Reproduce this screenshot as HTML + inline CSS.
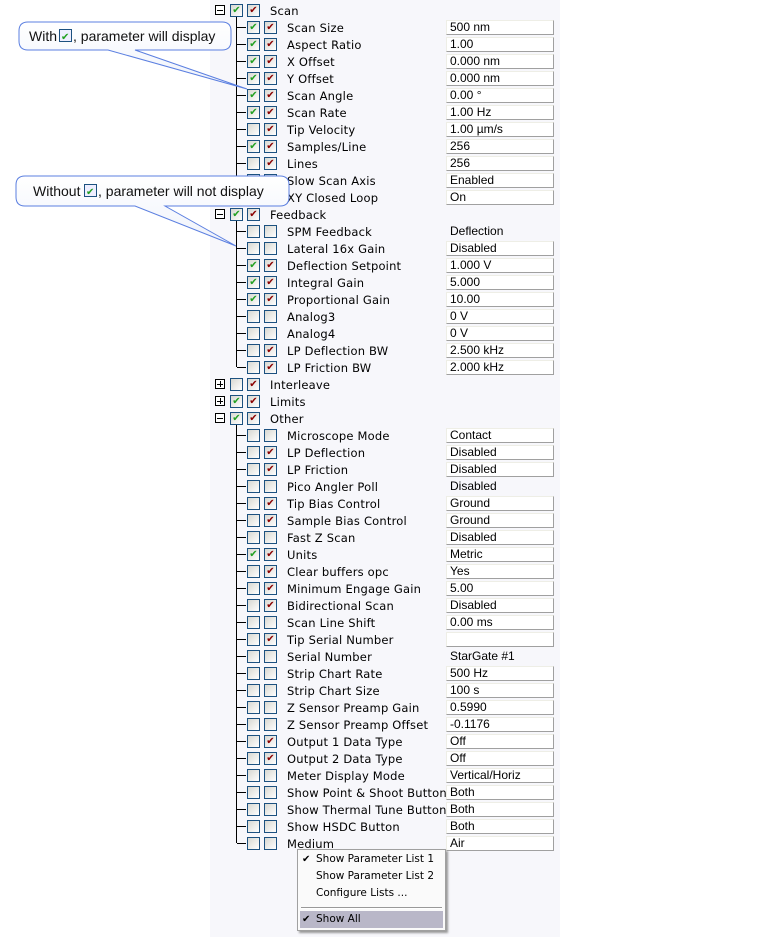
<!DOCTYPE html>
<html><head><meta charset="utf-8"><style>
body{margin:0;width:768px;height:937px;background:#fff;position:relative;overflow:hidden;font-family:"DejaVu Sans",sans-serif}
#panel{position:absolute;left:210px;top:0;width:350px;height:937px;background:#f7f7fb}
.r{position:absolute;left:0;width:768px;height:17px}
.h{position:absolute;left:237px;top:8px;width:9px;height:1px;background:#000}
.cb{position:absolute;top:2px;width:11px;height:11px;border:1px solid #1c5180;background:linear-gradient(135deg,#d8d8d2,#fff);font-size:10px;line-height:11px;text-align:center;font-weight:bold}
.g{color:#22a022}.d{color:#8b0000}
.c1{left:247px}.c2{left:264px}
.t .c1{left:230px}.t .c2{left:247px}
.l{position:absolute;left:287px;top:1px;font-size:11.5px;line-height:17px;color:#000;white-space:nowrap;letter-spacing:0.2px}
.t .l{left:270px}
.v{position:absolute;left:446px;top:1px;width:103px;height:13px;background:#fff;border:1px solid;border-color:#eeeee6 #a0a0a0 #a0a0a0 #eeeee6;font-family:"Liberation Sans",sans-serif;font-size:12px;line-height:12px;padding-left:3px;white-space:nowrap}
.nb{background:transparent;border-color:transparent}
.ex{position:absolute;left:215px;top:3px;width:8px;height:8px;border:1px solid #000;background:#fff}
.ex:before{content:"";position:absolute;left:1px;top:3.5px;width:6px;height:1px;background:#000}
.ex.p:after{content:"";position:absolute;left:3.5px;top:1px;width:1px;height:6px;background:#000}
.vl{position:absolute;left:236px;width:1px;background:#000}
.menu{position:absolute;left:297px;top:849px;width:147px;height:80px;background:#fafafa;border:1px solid #a0a0a0;box-shadow:2px 2px 2px #999;font-family:"DejaVu Sans",sans-serif;font-size:10.5px}
.mi{position:absolute;left:18px;white-space:nowrap}
</style></head><body>
<div id="panel"></div>
<div class="vl" style="top:17px;height:180px"></div>
<div class="vl" style="top:221px;height:146px"></div>
<div class="vl" style="top:425px;height:418px"></div>

<div class="r t" style="top:2px"><div class="ex"></div><div class="cb c1 g">✔</div><div class="cb c2 d">✔</div><div class="l">Scan</div></div>
<div class="r" style="top:19px"><div class="h"></div><div class="cb c1 g">✔</div><div class="cb c2 d">✔</div><div class="l">Scan Size</div><div class="v">500 nm</div></div>
<div class="r" style="top:36px"><div class="h"></div><div class="cb c1 g">✔</div><div class="cb c2 d">✔</div><div class="l">Aspect Ratio</div><div class="v">1.00</div></div>
<div class="r" style="top:53px"><div class="h"></div><div class="cb c1 g">✔</div><div class="cb c2 d">✔</div><div class="l">X Offset</div><div class="v">0.000 nm</div></div>
<div class="r" style="top:70px"><div class="h"></div><div class="cb c1 g">✔</div><div class="cb c2 d">✔</div><div class="l">Y Offset</div><div class="v">0.000 nm</div></div>
<div class="r" style="top:87px"><div class="h"></div><div class="cb c1 g">✔</div><div class="cb c2 d">✔</div><div class="l">Scan Angle</div><div class="v">0.00 °</div></div>
<div class="r" style="top:104px"><div class="h"></div><div class="cb c1 g">✔</div><div class="cb c2 d">✔</div><div class="l">Scan Rate</div><div class="v">1.00 Hz</div></div>
<div class="r" style="top:121px"><div class="h"></div><div class="cb c1"></div><div class="cb c2 d">✔</div><div class="l">Tip Velocity</div><div class="v">1.00 µm/s</div></div>
<div class="r" style="top:138px"><div class="h"></div><div class="cb c1 g">✔</div><div class="cb c2 d">✔</div><div class="l">Samples/Line</div><div class="v">256</div></div>
<div class="r" style="top:155px"><div class="h"></div><div class="cb c1"></div><div class="cb c2 d">✔</div><div class="l">Lines</div><div class="v">256</div></div>
<div class="r" style="top:172px"><div class="h"></div><div class="cb c1"></div><div class="cb c2"></div><div class="l">Slow Scan Axis</div><div class="v">Enabled</div></div>
<div class="r" style="top:189px"><div class="h"></div><div class="cb c1"></div><div class="cb c2"></div><div class="l">XY Closed Loop</div><div class="v">On</div></div>
<div class="r t" style="top:206px"><div class="ex"></div><div class="cb c1 g">✔</div><div class="cb c2 d">✔</div><div class="l">Feedback</div></div>
<div class="r" style="top:223px"><div class="h"></div><div class="cb c1"></div><div class="cb c2"></div><div class="l">SPM Feedback</div><div class="v nb">Deflection</div></div>
<div class="r" style="top:240px"><div class="h"></div><div class="cb c1"></div><div class="cb c2"></div><div class="l">Lateral 16x Gain</div><div class="v">Disabled</div></div>
<div class="r" style="top:257px"><div class="h"></div><div class="cb c1 g">✔</div><div class="cb c2 d">✔</div><div class="l">Deflection Setpoint</div><div class="v">1.000 V</div></div>
<div class="r" style="top:274px"><div class="h"></div><div class="cb c1 g">✔</div><div class="cb c2 d">✔</div><div class="l">Integral Gain</div><div class="v">5.000</div></div>
<div class="r" style="top:291px"><div class="h"></div><div class="cb c1 g">✔</div><div class="cb c2 d">✔</div><div class="l">Proportional Gain</div><div class="v">10.00</div></div>
<div class="r" style="top:308px"><div class="h"></div><div class="cb c1"></div><div class="cb c2"></div><div class="l">Analog3</div><div class="v">0 V</div></div>
<div class="r" style="top:325px"><div class="h"></div><div class="cb c1"></div><div class="cb c2"></div><div class="l">Analog4</div><div class="v">0 V</div></div>
<div class="r" style="top:342px"><div class="h"></div><div class="cb c1"></div><div class="cb c2 d">✔</div><div class="l">LP Deflection BW</div><div class="v">2.500 kHz</div></div>
<div class="r" style="top:359px"><div class="h"></div><div class="cb c1"></div><div class="cb c2 d">✔</div><div class="l">LP Friction BW</div><div class="v">2.000 kHz</div></div>
<div class="r t" style="top:376px"><div class="ex p"></div><div class="cb c1"></div><div class="cb c2 d">✔</div><div class="l">Interleave</div></div>
<div class="r t" style="top:393px"><div class="ex p"></div><div class="cb c1 g">✔</div><div class="cb c2 d">✔</div><div class="l">Limits</div></div>
<div class="r t" style="top:410px"><div class="ex"></div><div class="cb c1 g">✔</div><div class="cb c2 d">✔</div><div class="l">Other</div></div>
<div class="r" style="top:427px"><div class="h"></div><div class="cb c1"></div><div class="cb c2"></div><div class="l">Microscope Mode</div><div class="v">Contact</div></div>
<div class="r" style="top:444px"><div class="h"></div><div class="cb c1"></div><div class="cb c2 d">✔</div><div class="l">LP Deflection</div><div class="v">Disabled</div></div>
<div class="r" style="top:461px"><div class="h"></div><div class="cb c1"></div><div class="cb c2 d">✔</div><div class="l">LP Friction</div><div class="v">Disabled</div></div>
<div class="r" style="top:478px"><div class="h"></div><div class="cb c1"></div><div class="cb c2"></div><div class="l">Pico Angler Poll</div><div class="v nb">Disabled</div></div>
<div class="r" style="top:495px"><div class="h"></div><div class="cb c1"></div><div class="cb c2 d">✔</div><div class="l">Tip Bias Control</div><div class="v">Ground</div></div>
<div class="r" style="top:512px"><div class="h"></div><div class="cb c1"></div><div class="cb c2 d">✔</div><div class="l">Sample Bias Control</div><div class="v">Ground</div></div>
<div class="r" style="top:529px"><div class="h"></div><div class="cb c1"></div><div class="cb c2"></div><div class="l">Fast Z Scan</div><div class="v">Disabled</div></div>
<div class="r" style="top:546px"><div class="h"></div><div class="cb c1 g">✔</div><div class="cb c2 d">✔</div><div class="l">Units</div><div class="v">Metric</div></div>
<div class="r" style="top:563px"><div class="h"></div><div class="cb c1"></div><div class="cb c2 d">✔</div><div class="l">Clear buffers opc</div><div class="v">Yes</div></div>
<div class="r" style="top:580px"><div class="h"></div><div class="cb c1"></div><div class="cb c2 d">✔</div><div class="l">Minimum Engage Gain</div><div class="v">5.00</div></div>
<div class="r" style="top:597px"><div class="h"></div><div class="cb c1"></div><div class="cb c2 d">✔</div><div class="l">Bidirectional Scan</div><div class="v">Disabled</div></div>
<div class="r" style="top:614px"><div class="h"></div><div class="cb c1"></div><div class="cb c2"></div><div class="l">Scan Line Shift</div><div class="v">0.00 ms</div></div>
<div class="r" style="top:631px"><div class="h"></div><div class="cb c1"></div><div class="cb c2 d">✔</div><div class="l">Tip Serial Number</div><div class="v"></div></div>
<div class="r" style="top:648px"><div class="h"></div><div class="cb c1"></div><div class="cb c2"></div><div class="l">Serial Number</div><div class="v nb">StarGate #1</div></div>
<div class="r" style="top:665px"><div class="h"></div><div class="cb c1"></div><div class="cb c2"></div><div class="l">Strip Chart Rate</div><div class="v">500 Hz</div></div>
<div class="r" style="top:682px"><div class="h"></div><div class="cb c1"></div><div class="cb c2"></div><div class="l">Strip Chart Size</div><div class="v">100 s</div></div>
<div class="r" style="top:699px"><div class="h"></div><div class="cb c1"></div><div class="cb c2"></div><div class="l">Z Sensor Preamp Gain</div><div class="v">0.5990</div></div>
<div class="r" style="top:716px"><div class="h"></div><div class="cb c1"></div><div class="cb c2"></div><div class="l">Z Sensor Preamp Offset</div><div class="v">-0.1176</div></div>
<div class="r" style="top:733px"><div class="h"></div><div class="cb c1"></div><div class="cb c2 d">✔</div><div class="l">Output 1 Data Type</div><div class="v">Off</div></div>
<div class="r" style="top:750px"><div class="h"></div><div class="cb c1"></div><div class="cb c2 d">✔</div><div class="l">Output 2 Data Type</div><div class="v">Off</div></div>
<div class="r" style="top:767px"><div class="h"></div><div class="cb c1"></div><div class="cb c2"></div><div class="l">Meter Display Mode</div><div class="v">Vertical/Horiz</div></div>
<div class="r" style="top:784px"><div class="h"></div><div class="cb c1"></div><div class="cb c2"></div><div class="l">Show Point &amp; Shoot Button</div><div class="v">Both</div></div>
<div class="r" style="top:801px"><div class="h"></div><div class="cb c1"></div><div class="cb c2"></div><div class="l">Show Thermal Tune Button</div><div class="v">Both</div></div>
<div class="r" style="top:818px"><div class="h"></div><div class="cb c1"></div><div class="cb c2"></div><div class="l">Show HSDC Button</div><div class="v">Both</div></div>
<div class="r" style="top:835px"><div class="h"></div><div class="cb c1"></div><div class="cb c2"></div><div class="l">Medium</div><div class="v">Air</div></div>

<svg style="position:absolute;left:0;top:0" width="768" height="937">
<defs><linearGradient id="cg" x1="0" y1="0" x2="0" y2="1"><stop offset="0" stop-color="#ffffff"/><stop offset="1" stop-color="#eef2fb"/></linearGradient></defs>
<path d="M28,22 H222 Q231,22 231,31 V41 Q231,50 222,50 H135 L247,89 L108,50 H28 Q19,50 19,41 V31 Q19,22 28,22 Z" fill="url(#cg)" stroke="#5b7fe0" stroke-width="1"/>
<path d="M25,176 H280 Q289,176 289,185 V197 Q289,206 280,206 H165 L236,246 L135,206 H25 Q16,206 16,197 V185 Q16,176 25,176 Z" fill="url(#cg)" stroke="#5b7fe0" stroke-width="1"/>
<text x="29" y="41" font-family="Liberation Sans,sans-serif" font-size="14" fill="#111">With</text>
<rect x="59.5" y="29.5" width="12" height="12" fill="#eef" stroke="#1c5180"/>
<text x="61" y="40" font-size="10" font-weight="bold" fill="#22a022" font-family="DejaVu Sans,sans-serif">✔</text>
<text x="73" y="41" font-family="Liberation Sans,sans-serif" font-size="14" fill="#111">, parameter will display</text>
<text x="33" y="196" font-family="Liberation Sans,sans-serif" font-size="14" fill="#111">Without</text>
<rect x="84.5" y="184.5" width="12" height="12" fill="#eef" stroke="#1c5180"/>
<text x="86" y="195" font-size="10" font-weight="bold" fill="#22a022" font-family="DejaVu Sans,sans-serif">✔</text>
<text x="98" y="196" font-family="Liberation Sans,sans-serif" font-size="14" fill="#111">, parameter will not display</text>
</svg>

<div class="menu">
<div style="position:absolute;left:4px;top:4px;font-size:10px">✔</div>
<div class="mi" style="top:3px">Show Parameter List 1</div>
<div class="mi" style="top:20px">Show Parameter List 2</div>
<div class="mi" style="top:37px">Configure Lists ...</div>
<div style="position:absolute;left:3px;top:57px;width:141px;height:1px;background:#999;border-bottom:1px solid #fff"></div>
<div style="position:absolute;left:2px;top:61px;width:143px;height:17px;background:#b9b7c8"></div>
<div style="position:absolute;left:4px;top:64px;font-size:10px">✔</div>
<div class="mi" style="top:63px">Show All</div>
</div>
</body></html>
